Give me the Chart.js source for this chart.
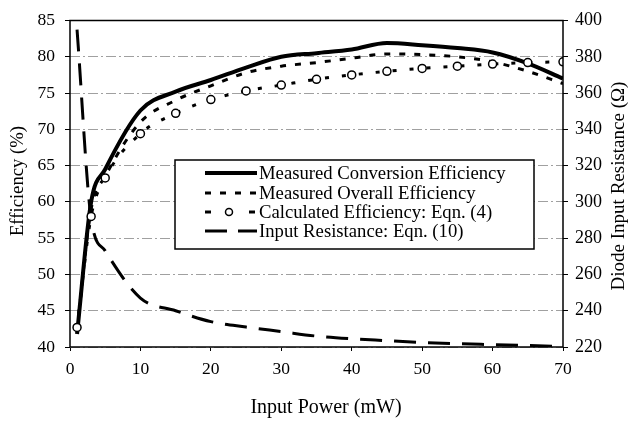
<!DOCTYPE html>
<html>
<head>
<meta charset="utf-8">
<script src="https://cdn.jsdelivr.net/npm/chart.js@4.4.1/dist/chart.umd.min.js"></script>
<style>
  html, body { margin: 0; padding: 0; background: #fff; }
  #wrap { width: 632px; height: 422px; }
</style>
</head>
<body>
<div id="wrap"><canvas id="c" width="632" height="422"></canvas></div>
<script>
// ── dados ────────────────────────────────────────────────────────────────
var powerMW     = [1, 3, 5, 10, 15, 20, 25, 30, 35, 40, 45, 50, 55, 60, 65, 70];
var convEff     = [41.8, 60, 64.5, 72.6, 75.2, 76.8, 78.5, 80, 80.5, 81, 81.9, 81.6, 81.2, 80.6, 79.1, 77];
var overallEff  = [42.3, 59, 63.5, 71, 74, 76, 77.8, 78.7, 79.2, 79.8, 80.4, 80.3, 80, 79.3, 78, 76.3];
var calcEff     = [42.7, 58, 63.3, 69.4, 72.2, 74.1, 75.3, 76.1, 76.9, 77.5, 78, 78.4, 78.7, 79, 79.2, 79.3];
var resistOhm   = [395, 291, 273, 247, 240, 234, 231, 228.5, 226, 224.5, 223.5, 222.5, 221.8, 221.3, 220.8, 220.3];

var effTicks = [40, 45, 50, 55, 60, 65, 70, 75, 80, 85];
var resTicks = [220, 240, 260, 280, 300, 320, 340, 360, 380, 400];
var powTicks = [0, 10, 20, 30, 40, 50, 60, 70];

var legendItems = [
  "Measured Conversion Efficiency",
  "Measured Overall Efficiency",
  "Calculated Efficiency: Eqn. (4)",
  "Input Resistance: Eqn. (10)"
];
var xTitle  = "Input Power (mW)";
var yTitle  = "Efficiency (%)";
var y2Title = "Diode Input Resistance (\u03A9)";

var SERIF = "'Liberation Serif', 'Times New Roman', serif";

function pts(ys) {
  return powerMW.map(function(x, i) { return { x: x, y: ys[i] }; });
}

// legenda desenhada dentro da area do grafico
var boxLegend = {
  id: "boxLegend",
  afterDraw: function(chart) {
    var ctx = chart.ctx;
    var bx = 175, by = 160, bw = 359, bh = 89;
    ctx.save();
    ctx.fillStyle = "#fff";
    ctx.fillRect(bx, by, bw, bh);
    ctx.strokeStyle = "#000";
    ctx.lineWidth = 1.5;
    ctx.strokeRect(bx, by, bw, bh);

    var x0 = 205, x1 = 257;
    var rows = [173, 193, 212, 231];
    ctx.lineCap = "butt";

    // 1 solida
    ctx.lineWidth = 4;
    ctx.setLineDash([]);
    ctx.beginPath(); ctx.moveTo(x0, rows[0]); ctx.lineTo(x1, rows[0]); ctx.stroke();
    // 2 tracejado curto
    ctx.lineWidth = 3;
    ctx.setLineDash([6, 9]);
    ctx.beginPath(); ctx.moveTo(x0, rows[1]); ctx.lineTo(x1, rows[1]); ctx.stroke();
    // 3 ponto - circulo - ponto
    ctx.setLineDash([]);
    ctx.beginPath(); ctx.moveTo(x0, rows[2]); ctx.lineTo(x0 + 6, rows[2]); ctx.stroke();
    ctx.beginPath(); ctx.moveTo(x1 - 8, rows[2]); ctx.lineTo(x1 - 2, rows[2]); ctx.stroke();
    ctx.lineWidth = 1.5;
    ctx.beginPath(); ctx.arc(229, rows[2], 3.5, 0, Math.PI * 2); ctx.fillStyle = "#fff"; ctx.fill(); ctx.stroke();
    // 4 tracejado longo
    ctx.lineWidth = 3;
    ctx.beginPath(); ctx.moveTo(x0, rows[3]); ctx.lineTo(x0 + 22, rows[3]); ctx.stroke();
    ctx.beginPath(); ctx.moveTo(x1 - 19, rows[3]); ctx.lineTo(x1, rows[3]); ctx.stroke();

    ctx.fillStyle = "#000";
    ctx.font = "18.7px " + SERIF;
    ctx.textAlign = "left";
    ctx.textBaseline = "middle";
    legendItems.forEach(function(t, i) { ctx.fillText(t, 259, rows[i] + 1); });
    ctx.restore();
  }
};

// moldura preta em volta da area de plotagem + titulos dos eixos
var frame = {
  id: "frame",
  afterDatasetsDraw: function(chart) {
    var a = chart.chartArea, ctx = chart.ctx;
    ctx.save();
    ctx.strokeStyle = "#000";
    ctx.lineWidth = 1.5;
    ctx.strokeRect(a.left, a.top, a.right - a.left, a.bottom - a.top);
    ctx.restore();
  },
  afterDraw: function(chart) {
    var ctx = chart.ctx;
    ctx.save();
    ctx.fillStyle = "#000";
    ctx.textAlign = "center";
    ctx.textBaseline = "middle";
    ctx.font = "20px " + SERIF;
    ctx.fillText(xTitle, 326, 408);

    ctx.save();
    ctx.translate(18, 181);
    ctx.rotate(-Math.PI / 2);
    ctx.font = "18.7px " + SERIF;
    ctx.fillText(yTitle, 0, 0);
    ctx.restore();

    ctx.save();
    ctx.translate(619, 186);
    ctx.rotate(-Math.PI / 2);
    ctx.font = "19px " + SERIF;
    ctx.fillText(y2Title, 0, 0);
    ctx.restore();
    ctx.restore();
  }
};

function fixedTicks(list) {
  return function(axis) {
    axis.ticks = list.map(function(v) { return { value: v }; });
  };
}

new Chart(document.getElementById("c"), {
  type: "line",
  data: {
    datasets: [
      {
        label: legendItems[0], data: pts(convEff), yAxisID: "y",
        borderColor: "#000", borderWidth: 4, pointRadius: 0,
        cubicInterpolationMode: "monotone", order: 1
      },
      {
        label: legendItems[1], data: pts(overallEff), yAxisID: "y",
        borderColor: "#000", borderWidth: 3, borderDash: [6, 9], pointRadius: 0,
        cubicInterpolationMode: "monotone", order: 2
      },
      {
        label: legendItems[2], data: pts(calcEff), yAxisID: "y",
        borderColor: "#000", borderWidth: 3, borderDash: [4, 13], borderDashOffset: -14,
        pointRadius: 4, pointBorderWidth: 1.5, pointBackgroundColor: "#fff", pointBorderColor: "#000",
        cubicInterpolationMode: "monotone", order: 0
      },
      {
        label: legendItems[3], data: pts(resistOhm), yAxisID: "y2",
        borderColor: "#000", borderWidth: 3, borderDash: [22, 12], pointRadius: 0,
        cubicInterpolationMode: "monotone", order: 3
      }
    ]
  },
  options: {
    responsive: false, animation: false, devicePixelRatio: 1,
    layout: { padding: { top: 17, left: 0, right: 0, bottom: 0 } },
    plugins: { legend: { display: false }, tooltip: { enabled: false } },
    scales: {
      x: {
        type: "linear", min: 0, max: 70,
        afterBuildTicks: fixedTicks(powTicks),
        grid: { display: true, drawOnChartArea: false, tickLength: 4, color: "#000" },
        border: { display: false },
        ticks: { color: "#000", font: { family: SERIF, size: 17.5 }, padding: 8 },
        afterFit: function(s) { s.height = 75; }
      },
      y: {
        position: "left", min: 40, max: 85,
        afterBuildTicks: fixedTicks(effTicks),
        grid: { color: "#a0a0a0", lineWidth: 1, tickLength: 5, tickColor: "#000" },
        border: { display: false, dash: [10, 3, 2, 3] },
        ticks: { color: "#000", font: { family: SERIF, size: 17.5 }, padding: 10 },
        afterFit: function(s) { s.width = 70; }
      },
      y2: {
        position: "right", min: 220, max: 400,
        afterBuildTicks: fixedTicks(resTicks),
        grid: { drawOnChartArea: false, tickLength: 5, color: "#000" },
        border: { display: false },
        ticks: { color: "#000", font: { family: SERIF, size: 18 }, padding: 7 },
        afterFit: function(s) { s.width = 69; }
      }
    }
  },
  plugins: [frame, boxLegend]
});
</script>
</body>
</html>
